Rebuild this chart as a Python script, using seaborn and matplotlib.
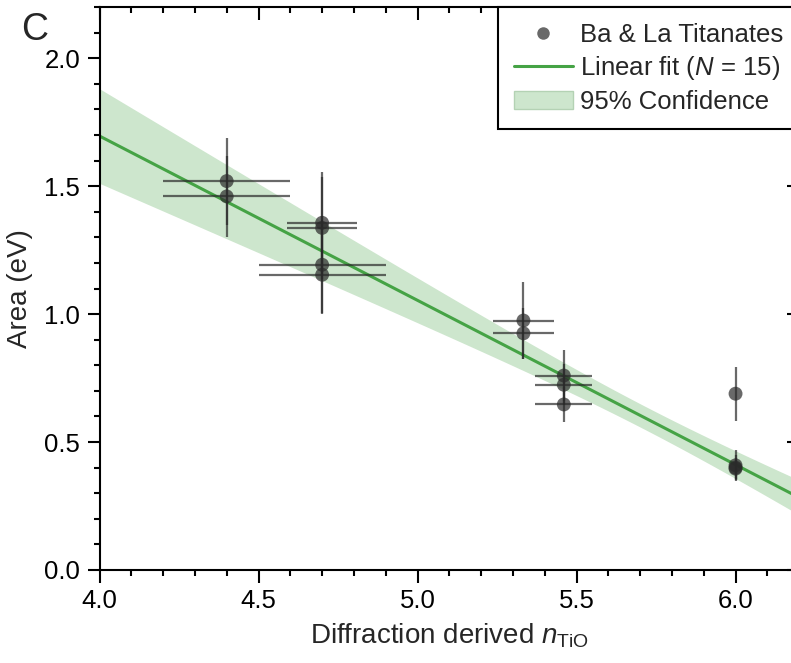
#!/usr/bin/env python3
"""
Area vs diffraction derived n_TiO for Ba & La titanates, with weighted linear fit
and 95% confidence band.
"""

import matplotlib

matplotlib.use("Agg")
import matplotlib.pyplot as plt
import numpy as np
import pandas as pd
import seaborn as sns
from matplotlib.lines import Line2D
from matplotlib.patches import Patch
from matplotlib.ticker import MultipleLocator

# values
n_tio = [4.4, 4.4, 4.7, 4.7, 4.7, 4.7, 5.333, 5.333, 5.46, 5.46, 5.46, 6.0, 6.0, 6.0, 6.0]
area_ev = [1.52, 1.46, 1.357, 1.337, 1.193, 1.154, 0.975, 0.925,
           0.76, 0.724, 0.647, 0.689, 0.409, 0.400, 0.396]
n_tio_err = [0.2, 0.2, 0.11, 0.11, 0.2, 0.2, 0.095, 0.095,
             0.09, 0.09, 0.09, 0.0, 0.0, 0.0, 0.0]
area_err = [0.17, 0.158, 0.2, 0.2, 0.19, 0.155, 0.15, 0.1,
            0.1, 0.08, 0.07, 0.105, 0.06, 0.05, 0.04]

x_ticks = [4.0, 4.5, 5.0, 5.5, 6.0]
y_ticks = [0.0, 0.5, 1.0, 1.5, 2.0]

legend_labels = ["Ba & La Titanates", "Linear fit ($\\it{N}$ = 15)", "95% Confidence"]

T_95_DF13 = 2.1604  # student t, two sided 95%, n - 2 = 13

POINT_COLOR = "#2a2a2a"
FIT_COLOR = "#45a345"
BAND_COLOR = "#cde6cd"

sns.set_theme(style="ticks")
plt.rcParams["font.family"] = ["Liberation Sans", "DejaVu Sans"]
plt.rcParams["mathtext.fontset"] = "custom"
plt.rcParams["mathtext.it"] = "Liberation Sans:italic"
plt.rcParams["mathtext.rm"] = "Liberation Sans"


def weighted_fit(x, y, sy, x_grid):
    x = np.asarray(x)
    y = np.asarray(y)
    w = 1.0 / np.asarray(sy) ** 2
    X = np.column_stack([np.ones_like(x), x])
    XtW = X.T * w
    cov = np.linalg.inv(XtW @ X)
    beta = cov @ (XtW @ y)
    resid = y - X @ beta
    chi2_red = np.sum(w * resid**2) / (len(x) - 2)
    cov = cov * chi2_red
    G = np.column_stack([np.ones_like(x_grid), x_grid])
    fit = G @ beta
    se = np.sqrt(np.einsum("ij,jk,ik->i", G, cov, G))
    return fit, T_95_DF13 * se


df = pd.DataFrame({"n": n_tio, "area": area_ev, "xerr": n_tio_err, "yerr": area_err})

x_grid = np.linspace(4.0, 6.2, 200)
fit, half_width = weighted_fit(df["n"], df["area"], df["yerr"], x_grid)

fig = plt.figure(figsize=(7.91, 6.63), dpi=100)
ax = fig.add_axes([0.1258, 0.1403, 0.8845, 0.849])

ax.fill_between(x_grid, fit - half_width, fit + half_width, color=BAND_COLOR, lw=0, zorder=1)
ax.plot(x_grid, fit, color=FIT_COLOR, lw=2.2, zorder=2)

ax.errorbar(
    df["n"], df["area"], xerr=df["xerr"], yerr=df["yerr"], fmt="none",
    ecolor=POINT_COLOR, elinewidth=1.6, alpha=0.7, capsize=0, zorder=3,
)
sns.scatterplot(
    data=df, x="n", y="area", ax=ax, color=POINT_COLOR, s=100, alpha=0.7,
    edgecolor="none", zorder=4, legend=False,
)

ax.set_xlim(4.0, 6.2)
ax.set_ylim(0.0, 2.2)
ax.set_xticks(x_ticks)
ax.set_yticks(y_ticks)
ax.set_xticklabels([f"{v:.1f}" for v in x_ticks])
ax.set_yticklabels([f"{v:.1f}" for v in y_ticks])
ax.xaxis.set_minor_locator(MultipleLocator(0.1))
ax.yaxis.set_minor_locator(MultipleLocator(0.1))
ax.set_xlabel("")
ax.set_ylabel("")

for side in ["top", "right", "left", "bottom"]:
    ax.spines[side].set_visible(True)
    ax.spines[side].set_color("black")
    ax.spines[side].set_linewidth(1.5)

ax.tick_params(axis="both", which="major", direction="out", length=9, width=1.5,
               labelsize=18.5, colors="black", pad=5)
ax.tick_params(axis="both", which="minor", direction="out", length=4.5, width=1.5,
               colors="black")
ax.tick_params(top=True, right=True, which="both")
for t in ax.xaxis.get_ticklines(minor=False)[1::2] + ax.xaxis.get_ticklines(minor=True)[1::2]:
    t.set_marker(3)  # top ticks point inside
for t in ax.yaxis.get_ticklines(minor=False)[1::2] + ax.yaxis.get_ticklines(minor=True)[1::2]:
    t.set_marker(0)  # right ticks point inside

ax.set_xlabel("Diffraction derived $\\it{n}_{\\mathrm{TiO}}$", fontsize=20, labelpad=6)
ax.set_ylabel("Area (eV)", fontsize=20, labelpad=8)

handles = [
    Line2D([], [], marker="o", ls="none", color=POINT_COLOR, alpha=0.7, markersize=9,
           markeredgecolor="none"),
    Line2D([], [], color=FIT_COLOR, lw=2.2),
    Patch(facecolor=BAND_COLOR, edgecolor="#b4d2b4", lw=1),
]
leg = ax.legend(
    handles, legend_labels, loc="upper right", bbox_to_anchor=(1.0, 1.0),
    borderaxespad=0, fontsize=18.5, frameon=True, fancybox=False, handlelength=2.3,
    handletextpad=0.3, labelspacing=0.3, borderpad=0.6,
)
leg.get_frame().set_edgecolor("black")
leg.get_frame().set_linewidth(1.5)
leg.get_frame().set_alpha(1)

fig.text(0.027, 0.928, "C", fontsize=27, ha="left", va="bottom")

fig.savefig("out.png", dpi=100)
